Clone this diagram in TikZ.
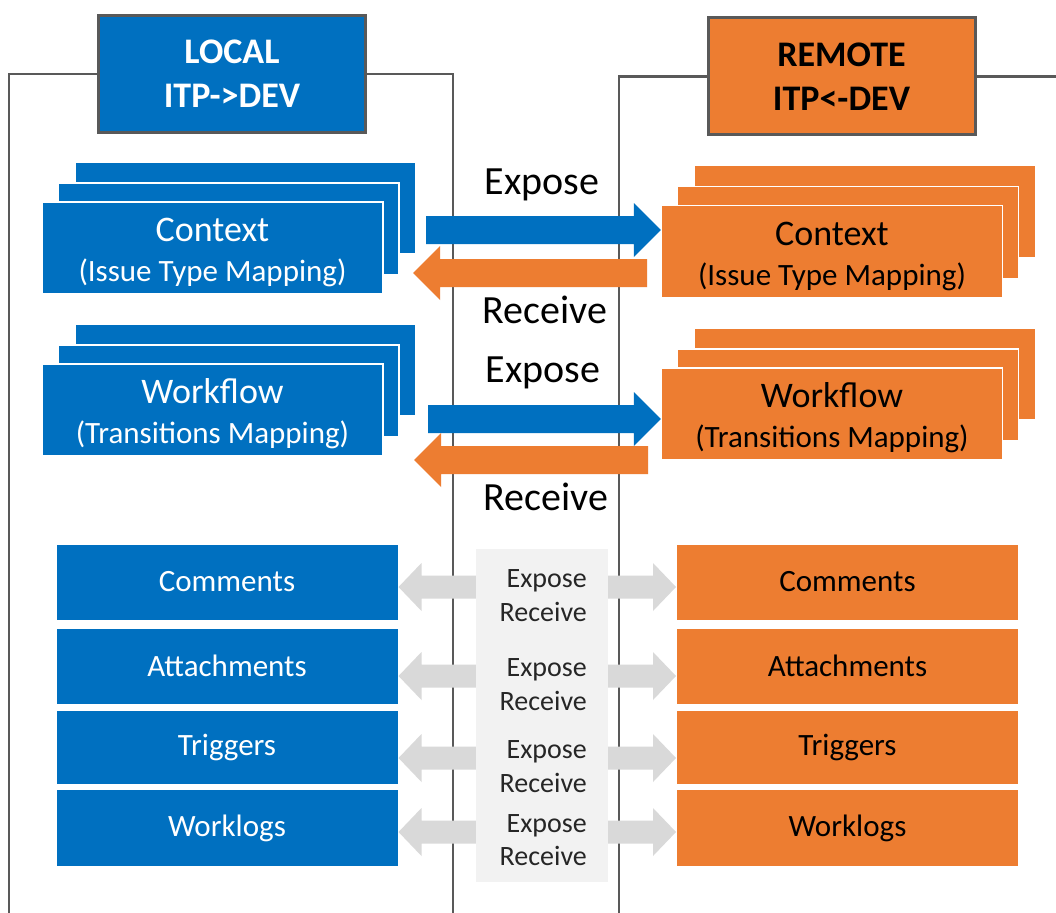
\documentclass[tikz,border=0pt]{standalone}
\usepackage{fontspec}
\setmainfont{Carlito}
\usetikzlibrary{calc,shadows}

\definecolor{itpblue}{HTML}{0070C0}
\definecolor{devorange}{HTML}{ED7D31}
\definecolor{framegray}{HTML}{595959}
\definecolor{linkgray}{HTML}{D9D9D9}
\definecolor{panelgray}{HTML}{F2F2F2}
\definecolor{inktext}{HTML}{262626}

% title line of a stacked box, with a strut that lowers the two-line block
\newcommand\stacktitle[1]{{\fontsize{36}{40}\selectfont\rule{0pt}{33pt}#1}}

\tikzset{
  frame/.style={draw=framegray, line width=2.5pt},
  header/.style={draw=framegray, line width=3pt, minimum width=267pt,
    minimum height=117pt, inner sep=0pt, align=center,
    font=\fontsize{36}{44}\selectfont\bfseries},
  localfill/.style={fill=itpblue, text=white},
  remotefill/.style={fill=devorange, text=black},
  stackbox/.style={draw=white, line width=1.5pt, minimum width=341pt,
    minimum height=92pt, inner sep=0pt, align=center,
    font=\fontsize{31}{40}\selectfont,
    copy shadow={shadow xshift=33pt, shadow yshift=40pt},
    copy shadow={shadow xshift=16pt, shadow yshift=19pt}},
  rowbox/.style={draw=white, line width=1pt, minimum width=342pt,
    minimum height=76pt, inner sep=0pt, font=\fontsize{31}{36}\selectfont},
  biglabel/.style={font=\fontsize{40}{48}\selectfont, text=black,
    inner sep=0pt, anchor=base},
  smalllabel/.style={font=\fontsize{28}{34}\selectfont, text=inktext,
    inner sep=0pt, anchor=base east},
  % block arrow: #1 half shaft width, #2 half head width, #3 head length
  fat arrow/.style n args={3}{to path={
    ($(\tikztostart)+(0,#1)$)
    -- ($(\tikztotarget)!#3!(\tikztostart)+(0,#1)$)
    -- ($(\tikztotarget)!#3!(\tikztostart)+(0,#2)$)
    -- (\tikztotarget)
    -- ($(\tikztotarget)!#3!(\tikztostart)-(0,#2)$)
    -- ($(\tikztotarget)!#3!(\tikztostart)-(0,#1)$)
    -- ($(\tikztostart)-(0,#1)$) -- cycle}},
  mainarrow/.style={fat arrow={14pt}{27pt}{27pt}},
  sidearrow/.style={fill=linkgray, fat arrow={11.5pt}{24pt}{23pt}},
}

\begin{document}
\begin{tikzpicture}[x=1pt, y=-1pt]
\clip (0,0) rectangle (1056,912);
\fill[white] (0,0) rectangle (1056,912);

% side headers
\node[header, localfill] (hdrL) at (232,74) {LOCAL\\ITP->DEV};
\node[header, remotefill] (hdrR) at (841.5,76.5) {REMOTE\\ITP<-DEV};

% side frames
\draw[frame] (hdrL.west) -| (9,930);
\draw[frame] (hdrL.east) -| (453,930);
\draw[frame] (hdrR.west) -| (619,930);
\draw[frame] (hdrR.east) -- ++(120,0);

% stacked mappings
\node[stackbox, localfill] (ctxL) at (212.5,248)
  {\stacktitle{Context}\\(Issue Type Mapping)};
\node[stackbox, remotefill] (ctxR) at (832,251.5)
  {\stacktitle{Context}\\(Issue Type Mapping)};
\node[stackbox, localfill] (wfL) at (212.5,410)
  {\stacktitle{Workflow}\\(Transitions Mapping)};
\node[stackbox, remotefill] (wfR) at (832,414)
  {\stacktitle{Workflow}\\(Transitions Mapping)};

% expose / receive arrows
\coordinate (ctxOut) at (426,230);
\coordinate (ctxIn)  at (647,273);
\coordinate (ctxTip) at (413,273);
\coordinate (wfOut)  at (428,419);
\coordinate (wfIn)   at (648,460);
\coordinate (wfTip)  at (414,460);
\fill[itpblue, mainarrow] (ctxOut) to (ctxR.west |- ctxOut);
\fill[devorange, mainarrow] (ctxIn) to (ctxTip);
\fill[itpblue, mainarrow] (wfOut) to (wfR.west |- wfOut);
\fill[devorange, mainarrow] (wfIn) to (wfTip);

\node[biglabel] (expCtx) at (542,194) {Expose};
\node[biglabel] (rcvCtx) at (545,323) {Receive};
\node[biglabel] (expWf)  at (543,382) {Expose};
\node[biglabel] (rcvWf)  at (546,510) {Receive};

% simple entities
\node[rowbox, localfill] (cmtL) at (227,582)   {Comments};
\node[rowbox, localfill, minimum height=76pt] (attL) at (227,666) {Attachments};
\node[rowbox, localfill, minimum height=74pt] (trgL) at (227,747) {Triggers};
\node[rowbox, localfill, minimum height=77pt] (wlgL) at (227,828) {Worklogs};
\node[rowbox, remotefill] (cmtR) at (847.5,582) {Comments};
\node[rowbox, remotefill, minimum height=76pt] (attR) at (847.5,666) {Attachments};
\node[rowbox, remotefill, minimum height=74pt] (trgR) at (847.5,747) {Triggers};
\node[rowbox, remotefill, minimum height=77pt] (wlgR) at (847.5,828) {Worklogs};

% centre panel with two-way links
\node[fill=panelgray, minimum width=132pt, minimum height=333pt, inner sep=0pt]
  (panel) at (542,715.5) {};
\coordinate (rowA) at (0,587);
\coordinate (rowB) at (0,676);
\coordinate (rowC) at (0,758);
\coordinate (rowD) at (0,832);
\foreach \r/\l/\rr in {rowA/cmtL/cmtR, rowB/attL/attR, rowC/trgL/trgR, rowD/wlgL/wlgR}{
  \fill[sidearrow] (panel.west |- \r) to (\l.east |- \r);
  \fill[sidearrow] (panel.east |- \r) to (\rr.west |- \r);
}
\node[smalllabel] (expA) at (587,587) {Expose};
\node[smalllabel] (rcvA) at (587,621) {Receive};
\node[smalllabel] (expB) at (587,676) {Expose};
\node[smalllabel] (rcvB) at (587,710) {Receive};
\node[smalllabel] (expC) at (587,758) {Expose};
\node[smalllabel] (rcvC) at (587,792) {Receive};
\node[smalllabel] (expD) at (587,832) {Expose};
\node[smalllabel] (rcvD) at (587,865) {Receive};
\end{tikzpicture}
\end{document}
